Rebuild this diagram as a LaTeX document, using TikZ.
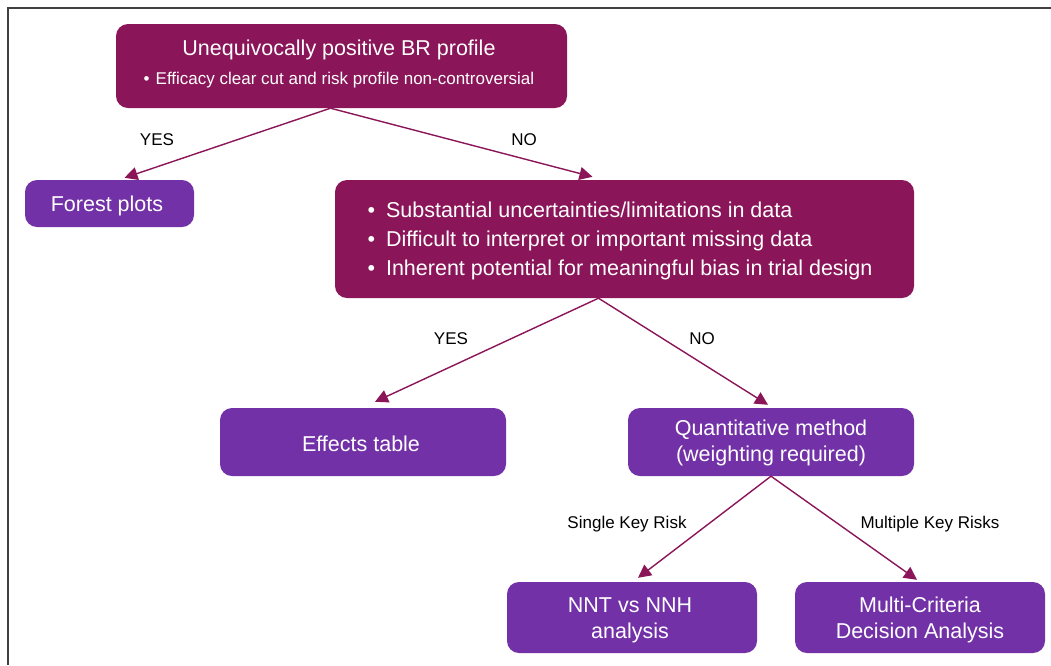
\documentclass[tikz,border=0pt]{standalone}
\usepackage{fontspec}
\setmainfont{Liberation Sans}
\usetikzlibrary{arrows.meta,calc}
\definecolor{mag}{HTML}{8A1659}
\definecolor{purp}{HTML}{7231A6}
\tikzset{
  box/.style={rectangle, rounded corners=12pt, text=white, align=center, inner sep=0pt},
  magbox/.style={box, fill=mag},
  purbox/.style={box, fill=purp},
  conn/.style={draw=mag, line width=1.4pt, -{Triangle[length=13pt,width=13pt]}},
  lbl/.style={font=\fontsize{17}{20}\selectfont, text=black},
  big/.style={font=\fontsize{21.5}{26}\selectfont}
}
\begin{document}
\begin{tikzpicture}[x=1pt,y=-1pt]
\useasboundingbox (0,0) rectangle (1051,665);
\fill[white] (0,0) rectangle (1051,665);
\draw[line width=1.6pt, black!75] (8,665) -- (8,8) -- (1051,8);

\node[magbox, minimum width=451pt, minimum height=84pt] (top) at (341.5,66) {};
\node[text=white, big] (toptitle) at (339,50) {Unequivocally positive BR profile};
\node[text=white, font=\fontsize{17}{20}\selectfont] (topsub) at (339,80) {\textbullet\hspace{6pt}Efficacy clear cut and risk profile non-controversial};

\node[purbox, minimum width=169pt, minimum height=47pt] (forest) at (109.5,203.5) {};
\node[text=white, big] (foresttext) at (107,206) {Forest plots};

\node[magbox, minimum width=579pt, minimum height=118pt] (mid) at (624.5,239) {};
\node[text=white, font=\fontsize{21.5}{29}\selectfont, align=left, anchor=west] (midtext) at (364,241) {%
\textbullet\hspace{11pt}Substantial uncertainties/limitations in data\\
\textbullet\hspace{11pt}Difficult to interpret or important missing data\\
\textbullet\hspace{11pt}Inherent potential for meaningful bias in trial design};

\node[purbox, minimum width=286pt, minimum height=68pt] (effects) at (363,442) {};
\node[text=white, big] (effectstext) at (361,444) {Effects table};
\node[purbox, minimum width=286pt, minimum height=68pt] (quant) at (771,442) {};
\node[text=white, big, align=center] (quanttext) at (771,443) {Quantitative method\\(weighting required)};
\node[purbox, minimum width=250pt, minimum height=71pt] (nnt) at (632,617.5) {};
\node[text=white, big, align=center] (nnttext) at (630,620) {NNT vs NNH\\analysis};
\node[purbox, minimum width=250pt, minimum height=71pt] (mcda) at (920,617.5) {};
\node[text=white, big, align=center] (mcdatext) at (920,620) {Multi-Criteria\\Decision Analysis};

\coordinate (topout) at ($(top.south)+(-11,0)$);
\coordinate (forestin) at ($(forest.north)+(15,-2)$);
\coordinate (midin) at ($(mid.north)+(-32,-3)$);
\draw[conn] (topout) -- (forestin);
\draw[conn] (topout) -- (midin);

\coordinate (midout) at ($(mid.south)+(-26,0)$);
\coordinate (effin) at ($(effects.north)+(12,-6)$);
\coordinate (quantin) at ($(quant.north)+(-3,-3)$);
\draw[conn] (midout) -- (effin);
\draw[conn] (midout) -- (quantin);

\coordinate (quantout) at (quant.south);
\coordinate (nntin) at ($(nnt.north)+(6,-4)$);
\coordinate (mcdain) at ($(mcda.north)+(-3,-2)$);
\draw[conn] (quantout) -- (nntin);
\draw[conn] (quantout) -- (mcdain);

\node[lbl] (l1) at (157,140) {YES};
\node[lbl] (l2) at (524,140) {NO};
\node[lbl] (l3) at (451,339) {YES};
\node[lbl] (l4) at (702,339) {NO};
\node[lbl] (l5) at (627,524) {Single Key Risk};
\node[lbl] (l6) at (930,524) {Multiple Key Risks};
\end{tikzpicture}
\end{document}
